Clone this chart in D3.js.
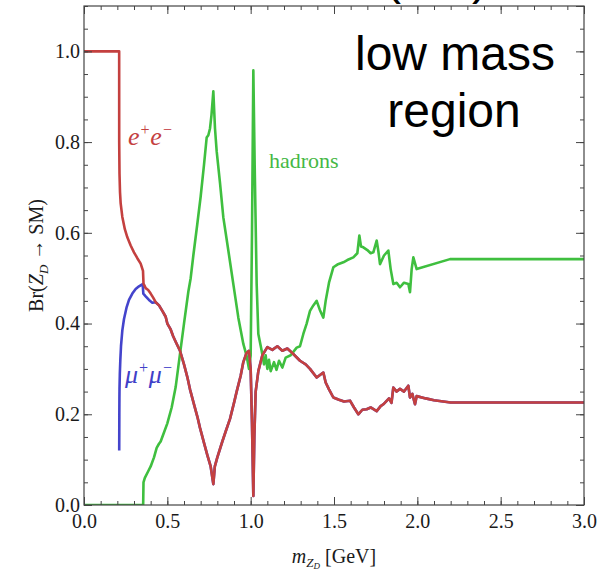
<!DOCTYPE html>
<meta charset="utf-8">
<script src="https://cdn.jsdelivr.net/npm/d3@7"></script>
<style>
body { margin: 0; background: #fff; }
text { font-family: "Liberation Serif", "Times New Roman", serif; }
</style>
<svg id="chart" width="597" height="570"></svg>
<script>

// e+e- near threshold, then shared lepton tail (mu mu overlaps e e above ~0.43 GeV)
var eeHeadM  = [0, 0.211, 0.2112, 0.213, 0.216, 0.22, 0.23, 0.245, 0.26, 0.28, 0.30, 0.32, 0.34, 0.354, 0.357, 0.37, 0.385, 0.40, 0.415];
var eeHeadBr = [1.0, 1.0, 0.80, 0.73, 0.69, 0.665, 0.635, 0.608, 0.59, 0.572, 0.557, 0.544, 0.532, 0.516, 0.488, 0.478, 0.474, 0.466, 0.457];

var mumuHeadM  = [0.2113, 0.212, 0.2125, 0.213, 0.215, 0.218, 0.222, 0.23, 0.24, 0.255, 0.27, 0.29, 0.31, 0.33, 0.352, 0.356, 0.37, 0.39, 0.41];
var mumuHeadBr = [0.12, 0.20, 0.235, 0.255, 0.29, 0.32, 0.35, 0.385, 0.41, 0.435, 0.452, 0.466, 0.476, 0.482, 0.487, 0.466, 0.46, 0.452, 0.446];

var lepTailM  = [0.43, 0.45, 0.47, 0.49, 0.50, 0.52, 0.535, 0.55, 0.576, 0.60, 0.62, 0.636, 0.66, 0.68, 0.696, 0.72, 0.74, 0.76, 0.776, 0.785, 0.80, 0.83, 0.85, 0.876, 0.90, 0.916, 0.94, 0.956, 0.975, 0.99, 1.0, 1.008, 1.016, 1.022, 1.03, 1.046, 1.07, 1.1, 1.13, 1.16, 1.19, 1.22, 1.25, 1.296, 1.33, 1.356, 1.396, 1.436, 1.45, 1.47, 1.496, 1.53, 1.56, 1.596, 1.62, 1.646, 1.67, 1.696, 1.72, 1.756, 1.78, 1.796, 1.83, 1.845, 1.856, 1.876, 1.896, 1.92, 1.946, 1.956, 1.97, 1.986, 1.996, 2.05, 2.1, 2.2, 3.0];
var lepTailBr = [0.447, 0.44, 0.428, 0.415, 0.40, 0.387, 0.372, 0.36, 0.34, 0.31, 0.282, 0.255, 0.222, 0.195, 0.17, 0.137, 0.11, 0.085, 0.046, 0.085, 0.105, 0.14, 0.162, 0.19, 0.225, 0.25, 0.285, 0.315, 0.335, 0.34, 0.30, 0.18, 0.02, 0.15, 0.25, 0.295, 0.33, 0.348, 0.342, 0.35, 0.34, 0.345, 0.335, 0.318, 0.31, 0.30, 0.281, 0.292, 0.27, 0.255, 0.237, 0.232, 0.228, 0.23, 0.215, 0.20, 0.21, 0.211, 0.215, 0.207, 0.218, 0.222, 0.235, 0.225, 0.259, 0.25, 0.256, 0.25, 0.263, 0.237, 0.245, 0.222, 0.24, 0.235, 0.231, 0.226, 0.226];

var hadM  = [0, 0.355, 0.357, 0.365, 0.386, 0.40, 0.42, 0.436, 0.45, 0.46, 0.476, 0.50, 0.526, 0.55, 0.576, 0.60, 0.626, 0.64, 0.656, 0.68, 0.70, 0.72, 0.736, 0.746, 0.756, 0.765, 0.776, 0.786, 0.796, 0.816, 0.836, 0.866, 0.896, 0.926, 0.956, 0.975, 0.99, 1.0, 1.008, 1.016, 1.024, 1.036, 1.046, 1.066, 1.08, 1.09, 1.1, 1.11, 1.12, 1.14, 1.155, 1.17, 1.19, 1.21, 1.24, 1.276, 1.296, 1.316, 1.336, 1.356, 1.376, 1.396, 1.415, 1.436, 1.45, 1.47, 1.496, 1.52, 1.556, 1.58, 1.616, 1.64, 1.652, 1.662, 1.676, 1.70, 1.72, 1.736, 1.756, 1.766, 1.776, 1.80, 1.826, 1.84, 1.856, 1.876, 1.896, 1.92, 1.946, 1.956, 1.966, 1.976, 1.996, 2.196, 3.0];
var hadBr = [0, 0, 0.05, 0.06, 0.075, 0.085, 0.105, 0.126, 0.135, 0.14, 0.156, 0.18, 0.215, 0.26, 0.333, 0.40, 0.47, 0.5, 0.55, 0.62, 0.68, 0.75, 0.81, 0.815, 0.83, 0.86, 0.912, 0.83, 0.78, 0.71, 0.634, 0.561, 0.487, 0.413, 0.355, 0.33, 0.30, 0.33, 0.60, 0.958, 0.75, 0.487, 0.377, 0.34, 0.31, 0.33, 0.30, 0.32, 0.295, 0.315, 0.298, 0.318, 0.303, 0.325, 0.33, 0.347, 0.35, 0.377, 0.40, 0.428, 0.44, 0.45, 0.43, 0.413, 0.45, 0.49, 0.524, 0.53, 0.535, 0.54, 0.546, 0.555, 0.594, 0.57, 0.568, 0.562, 0.555, 0.557, 0.583, 0.56, 0.531, 0.55, 0.561, 0.52, 0.487, 0.49, 0.48, 0.49, 0.487, 0.469, 0.52, 0.546, 0.52, 0.542, 0.542];

var xTicks = [0, 0.5, 1.0, 1.5, 2.0, 2.5, 3.0];
var yTicks = [0, 0.2, 0.4, 0.6, 0.8, 1.0];

var svg = d3.select("#chart");
var pLeft = 84, pRight = 584, pTop = 6, pBottom = 505;

var x = d3.scaleLinear().domain([0, 3]).range([pLeft, pRight]);
var y = d3.scaleLinear().domain([0, 1.1]).range([pBottom, pTop]);

svg.append("clipPath").attr("id", "clip")
  .append("rect").attr("x", pLeft).attr("y", pTop).attr("width", pRight - pLeft).attr("height", pBottom - pTop);

var line = d3.line().x(d => x(d[0])).y(d => y(d[1]));

var series = [
  {m: mumuHeadM.concat(lepTailM), br: mumuHeadBr.concat(lepTailBr), color: "#4444cc"},
  {m: hadM, br: hadBr, color: "#3fbf3f"},
  {m: eeHeadM.concat(lepTailM), br: eeHeadBr.concat(lepTailBr), color: "#c4403f"}
];

var lines = svg.append("g").attr("clip-path", "url(#clip)");
series.forEach(function(s) {
  lines.append("path")
    .datum(d3.zip(s.m, s.br))
    .attr("d", line)
    .attr("fill", "none")
    .attr("stroke", s.color)
    .attr("stroke-width", 2.6)
    .attr("stroke-linejoin", "round");
});

// frame with inward ticks, mathematica style
function ticks(axis, pos, values, size, labels) {
  var g = svg.append("g").attr("transform", pos)
    .call(axis.tickValues(values).tickSizeInner(size).tickSizeOuter(0).tickPadding(4)
      .tickFormat(labels ? d3.format(".1f") : ""));
  g.select(".domain").remove();
  g.selectAll("line").attr("stroke", "#444");
  g.selectAll("text").attr("font-size", 20).attr("fill", "#1a1a1a")
    .style("font-family", "'Liberation Serif', serif");
  return g;
}
var xMinor = d3.range(0, 3.0001, 0.1), yMinor = d3.range(0, 1.1001, 0.05);

ticks(d3.axisBottom(x), "translate(0," + pBottom + ")", xMinor, -4, false);
var xb = ticks(d3.axisBottom(x), "translate(0," + pBottom + ")", xTicks, -8, true);
xb.selectAll("text").attr("dy", "0.95em");
ticks(d3.axisTop(x), "translate(0," + pTop + ")", xMinor, -4, false);
ticks(d3.axisTop(x), "translate(0," + pTop + ")", xTicks, -8, false);
ticks(d3.axisLeft(y), "translate(" + pLeft + ",0)", yMinor, -4, false);
var yl = ticks(d3.axisLeft(y), "translate(" + pLeft + ",0)", yTicks, -8, true);
yl.selectAll("text").attr("x", -4);
ticks(d3.axisRight(y), "translate(" + pRight + ",0)", yMinor, -4, false);
ticks(d3.axisRight(y), "translate(" + pRight + ",0)", yTicks.concat([1.1]), -8, false);

svg.append("rect").attr("x", pLeft).attr("y", pTop).attr("width", pRight - pLeft).attr("height", pBottom - pTop)
  .attr("fill", "none").attr("stroke", "#444").attr("stroke-width", 1.2);

// axis titles
var yt = svg.append("text").attr("transform", "translate(43," + ((pTop + pBottom) / 2) + ") rotate(-90)")
  .attr("text-anchor", "middle").attr("font-size", 20).attr("fill", "#1a1a1a");
yt.append("tspan").text("Br(");
yt.append("tspan").text("Z").style("font-style", "italic");
yt.append("tspan").text("D").attr("font-size", 13).attr("dy", 5).style("font-style", "italic");
yt.append("tspan").text(" \u2192 SM)").attr("dy", -5);

var xt = svg.append("text").attr("x", x(1.5)).attr("y", 563)
  .attr("text-anchor", "middle").attr("font-size", 20).attr("fill", "#1a1a1a");
xt.append("tspan").text("m").style("font-style", "italic");
xt.append("tspan").text("Z").attr("font-size", 13).attr("dy", 4).style("font-style", "italic");
xt.append("tspan").text("D").attr("font-size", 9).attr("dy", 2).style("font-style", "italic");
xt.append("tspan").text(" [GeV]").attr("dy", -6);

// curve labels
var ee = svg.append("text").attr("x", 128).attr("y", 145).attr("font-size", 26)
  .attr("fill", "#c4403f").style("font-style", "italic");
ee.append("tspan").text("e");
ee.append("tspan").text("+").attr("font-size", 16).attr("dy", -10);
ee.append("tspan").text("e").attr("dy", 10);
ee.append("tspan").text("\u2212").attr("font-size", 16).attr("dy", -10);

var mu = svg.append("text").attr("x", 125).attr("y", 383).attr("font-size", 26)
  .attr("fill", "#4040c8").style("font-style", "italic");
mu.append("tspan").text("\u03bc");
mu.append("tspan").text("+").attr("font-size", 16).attr("dy", -10);
mu.append("tspan").text("\u03bc").attr("dy", 10);
mu.append("tspan").text("\u2212").attr("font-size", 16).attr("dy", -10);

svg.append("text").attr("x", 269).attr("y", 168).attr("font-size", 22)
  .attr("fill", "#45b845").text("hadrons");

// big annotation; the bracket pair is the tail of a title cut off by the top edge
var sans = "'Liberation Sans', Arial, sans-serif";
svg.append("text").attr("x", 455).attr("y", 70).attr("text-anchor", "middle")
  .attr("font-size", 48).style("font-family", sans).text("low mass");
svg.append("text").attr("x", 454).attr("y", 127).attr("text-anchor", "middle")
  .attr("font-size", 48).style("font-family", sans).text("region");
svg.append("text").attr("x", 385).attr("y", -6).attr("font-size", 48).style("font-family", sans).text("(");
svg.append("text").attr("x", 472).attr("y", -6).attr("font-size", 48).style("font-family", sans).text(")");

</script>
